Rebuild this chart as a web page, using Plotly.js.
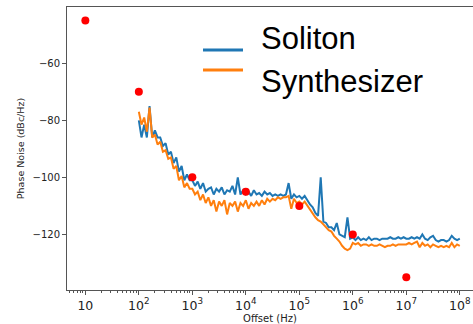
<!DOCTYPE html>
<html>
<head>
<meta charset="utf-8">
<script src="https://cdn.plot.ly/plotly-3.0.1.min.js"></script>
<style>html,body{margin:0;padding:0;overflow:hidden;background:#fff;}#chart{width:473px;height:324px;}</style>
</head>
<body>
<div id="chart"></div>
<script>
// Offsets as decades (log10 of Hz)
const offsetExp = [
 2.00,2.05,2.10,2.15,2.20,2.25,2.30,2.35,2.40,2.45,2.50,2.55,2.60,2.65,2.70,2.75,2.80,2.85,2.90,2.95,
 3.00,3.05,3.10,3.15,3.20,3.25,3.30,3.35,3.40,3.45,3.50,3.55,3.60,3.65,3.70,3.75,3.80,3.85,3.90,3.95,
 4.00,4.05,4.10,4.15,4.20,4.25,4.30,4.35,4.40,4.45,4.50,4.55,4.60,4.65,4.70,4.75,4.80,4.85,4.90,4.95,
 5.00,5.05,5.10,5.15,5.20,5.25,5.30,5.35,5.40,5.45,5.50,5.55,5.60,5.65,5.70,5.75,5.80,5.85,5.90,5.95,
 6.00,6.05,6.10,6.15,6.20,6.25,6.30,6.35,6.40,6.45,6.50,6.55,6.60,6.65,6.70,6.75,6.80,6.85,6.90,6.95,
 7.00,7.05,7.10,7.15,7.20,7.25,7.30,7.35,7.40,7.45,7.50,7.55,7.60,7.65,7.70,7.75,7.80,7.85,7.90,7.95,
 8.00
];
const solitonNoise = [
 -80,-86,-81.5,-86,-75,-86,-83.5,-86,-86,-89,-88,-92,-91,-95,-93,-98,-96,-101,-99,-101,
 -101,-103,-101.5,-104,-102,-105,-104,-103.5,-106,-104,-105,-103.5,-106,-104.5,-105,-103,-106,-100,-106,-104.5,
 -106,-105,-106.5,-104.5,-106,-105.5,-106.5,-105,-106,-105.5,-106.5,-106,-106.5,-106,-106.5,-106,-102,-107.5,-106,-107,
 -106.5,-107.5,-106.5,-108,-109.5,-110.5,-112.5,-113.5,-100,-115.5,-116,-117.5,-117.5,-118.5,-116,-120,-120.5,-121,-114,-121.5,
 -121,-122,-121,-122,-121.5,-122,-121,-122,-121.5,-121.5,-122,-121.5,-121.5,-121.5,-121,-121.5,-121.5,-121,-121.5,-121,
 -121.5,-121.5,-121,-121.5,-121,-121.5,-120,-121.5,-122,-121,-120.5,-122,-122.5,-122,-122,-122.5,-122,-120.5,-121.5,-122,
 -121.5
];
const synthNoise = [
 -77,-81.5,-79,-84,-75.5,-86,-85,-88.5,-87.5,-91,-90.5,-93.5,-93,-97,-96,-101,-99.5,-103.5,-102,-104,
 -104,-106,-105,-108,-106,-109,-107,-110,-108,-112,-108.5,-110,-108,-113,-109,-110,-108.5,-112,-109,-110,
 -108,-111,-109,-110,-108.5,-110,-108,-109.5,-107.5,-108.5,-107.5,-108,-107,-107.5,-107,-107,-106.5,-111,-107.5,-109,
 -108.5,-109.5,-108.5,-110,-111,-112.5,-114,-115,-115.5,-116.5,-117.5,-118.5,-119,-120.5,-121.5,-122.5,-124,-125,-125.5,-125,
 -123,-123.5,-123,-124,-123.5,-123.5,-124,-123.5,-124,-124,-123.5,-124,-124.5,-124,-124,-123.5,-124,-123.5,-123.5,-123.5,
 -123.5,-123,-123.5,-123,-122.5,-124.5,-123,-124,-123.5,-124.5,-123.5,-124,-124.5,-124,-124.5,-124,-124.5,-123,-124.5,-123.5,
 -124
];
const specOffsets = [10, 100, 1000, 10000, 100000, 1000000, 10000000];
const specLimits = [-45, -70, -100, -105, -110, -120, -135];
const yTickVals = [-60, -80, -100, -120];
const seriesNames = ['Soliton', 'Synthesizer'];

const offsetsHz = offsetExp.map(e => Math.pow(10, e));

const axisColor = '#555';
const tickFont = {family: 'DejaVu Sans', size: 10, color: '#222'};

const traces = [
  {x: offsetsHz, y: solitonNoise, type: 'scatter', mode: 'lines', name: seriesNames[0],
   line: {color: '#1f77b4', width: 2}, showlegend: false},
  {x: offsetsHz, y: synthNoise, type: 'scatter', mode: 'lines', name: seriesNames[1],
   line: {color: '#ff7f0e', width: 2}, showlegend: false},
  {x: specOffsets, y: specLimits, type: 'scatter', mode: 'markers', name: 'spec',
   marker: {color: 'red', size: 8}, showlegend: false}
];

const layout = {
  width: 473, height: 324,
  margin: {l: 67, r: 0, t: 7, b: 34, pad: 0},
  paper_bgcolor: '#fff', plot_bgcolor: '#fff',
  xaxis: {
    type: 'log', range: [0.657, 8.247], dtick: 1, exponentformat: 'power',
    showline: true, linecolor: axisColor, linewidth: 1, mirror: true,
    ticks: 'outside', ticklen: 4, tickcolor: axisColor, tickfont: tickFont,
    minor: {ticks: 'outside', ticklen: 2, tickcolor: axisColor, showgrid: false, dtick: 'D1'},
    showgrid: false, zeroline: false,
    title: {text: 'Offset (Hz)', font: {family: 'DejaVu Sans', size: 10, color: '#222'}, standoff: 4}
  },
  yaxis: {
    range: [-139.5, -40.25], tickvals: yTickVals,
    showline: true, linecolor: axisColor, linewidth: 1,
    ticks: 'outside', ticklen: 4, tickcolor: axisColor, tickfont: tickFont,
    showgrid: false, zeroline: false,
    title: {text: 'Phase Noise (dBc/Hz)', font: {family: 'DejaVu Sans', size: 9.5, color: '#222'}, standoff: 6}
  },
  shapes: [
    {type: 'line', xref: 'paper', yref: 'paper', x0: 0.335, x1: 0.4335, y0: 0.848, y1: 0.848,
     line: {color: '#1f77b4', width: 3}},
    {type: 'line', xref: 'paper', yref: 'paper', x0: 0.335, x1: 0.4335, y0: 0.777, y1: 0.777,
     line: {color: '#ff7f0e', width: 3}}
  ],
  annotations: [
    {text: seriesNames[0], xref: 'paper', yref: 'paper', x: 0.474, y: 0.89, xanchor: 'left', yanchor: 'middle',
     showarrow: false, font: {family: 'Liberation Sans', size: 31, color: '#000'}},
    {text: seriesNames[1], xref: 'paper', yref: 'paper', x: 0.474, y: 0.737, xanchor: 'left', yanchor: 'middle',
     showarrow: false, font: {family: 'Liberation Sans', size: 31, color: '#000'}}
  ]
};

Plotly.newPlot('chart', traces, layout, {displayModeBar: false, staticPlot: true});
</script>
</body>
</html>
